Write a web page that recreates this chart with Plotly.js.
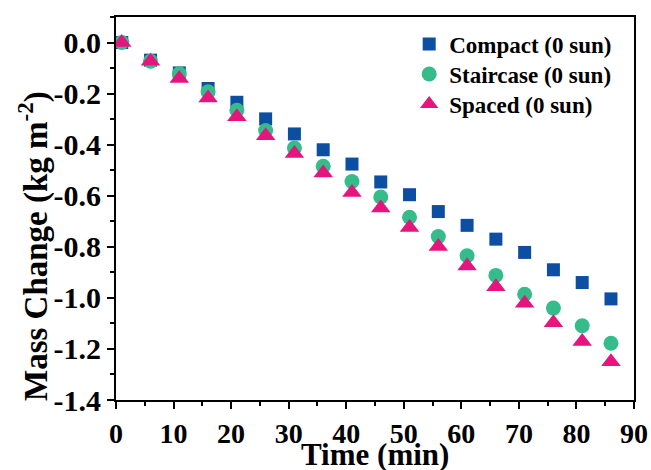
<!DOCTYPE html>
<html>
<head>
<meta charset="utf-8">
<script src="https://cdn.plot.ly/plotly-3.0.1.min.js"></script>
<style>html,body{margin:0;padding:0;background:#fff;}#chart{width:651px;height:470px;}</style>
</head>
<body>
<div id="chart"></div>
<script>
const timeMin = [1, 6, 11, 16, 21, 26, 31, 36, 41, 46, 51, 56, 61, 66, 71, 76, 81, 86];
const compact = [0.0, -0.069, -0.119, -0.180, -0.234, -0.299, -0.358, -0.420, -0.476, -0.546, -0.596, -0.662, -0.716, -0.770, -0.822, -0.890, -0.940, -1.004];
const staircase = [0.0, -0.073, -0.122, -0.193, -0.265, -0.345, -0.413, -0.485, -0.544, -0.605, -0.684, -0.760, -0.835, -0.912, -0.986, -1.040, -1.109, -1.178];
const spaced = [0.0, -0.073, -0.141, -0.217, -0.291, -0.365, -0.435, -0.511, -0.587, -0.648, -0.724, -0.799, -0.875, -0.956, -1.021, -1.097, -1.171, -1.250];
const seriesNames = ["Compact (0 sun)", "Staircase (0 sun)", "Spaced (0 sun)"];
const yTickVals = [0.0, -0.2, -0.4, -0.6, -0.8, -1.0, -1.2, -1.4];
const yTickText = ["0.0", "-0.2", "-0.4", "-0.6", "-0.8", "-1.0", "-1.2", "-1.4"];
const xTickVals = [0, 10, 20, 30, 40, 50, 60, 70, 80, 90];
const xTitle = "Time (min)";
const yTitle = "Mass Change (kg m<sup>-2</sup>)";

const FONT = "Liberation Serif, Times New Roman, serif";

const traces = [
  {x: timeMin, y: compact, name: seriesNames[0], type: "scatter", mode: "markers", legend: "legend",
   marker: {symbol: "square", size: 13, color: "#0c4ea1", line: {width: 0}}},
  {x: timeMin, y: staircase, name: seriesNames[1], type: "scatter", mode: "markers", legend: "legend2",
   marker: {symbol: "circle", size: 15, color: "#35bc8b", line: {width: 0}}},
  {x: timeMin, y: spaced, name: seriesNames[2], type: "scatter", mode: "markers", legend: "legend3",
   marker: {symbol: "triangle-up", size: 17, color: "#e6157d", line: {width: 0}}}
];

const axisCommon = {
  showgrid: false, zeroline: false, showline: true, linecolor: "#000", linewidth: 2,
  mirror: true, ticks: "outside", tickcolor: "#000", tickwidth: 2, ticklen: 7
};

const legendFont = {family: FONT, size: 23, color: "#000", weight: "bold"};
function legendAt(yPaper) {
  return {x: 0.566, y: yPaper, xanchor: "left", yanchor: "top", bgcolor: "rgba(0,0,0,0)", font: legendFont};
}

const layout = {
  width: 651, height: 470,
  margin: {l: 116, r: 17, t: 17, b: 70},
  paper_bgcolor: "#fff", plot_bgcolor: "#fff",
  showlegend: true,
  legend: legendAt(0.9854),
  legend2: legendAt(0.9070),
  legend3: legendAt(0.8287),
  xaxis: Object.assign({}, axisCommon, {
    range: [0, 90], tickmode: "array", tickvals: xTickVals,
    tickfont: {family: FONT, size: 28, color: "#000", weight: "bold"},
    minor: {dtick: 5, tick0: 0, ticks: "outside", ticklen: 4, tickwidth: 2, tickcolor: "#000"}
  }),
  yaxis: Object.assign({}, axisCommon, {
    range: [-1.4, 0.1], tickmode: "array", tickvals: yTickVals, ticktext: yTickText,
    tickfont: {family: FONT, size: 30, color: "#000", weight: "bold"},
    minor: {dtick: 0.1, tick0: 0, ticks: "outside", ticklen: 4, tickwidth: 2, tickcolor: "#000"}
  }),
  annotations: [{
    text: yTitle, textangle: -90, showarrow: false,
    xref: "paper", yref: "paper", x: (33 - 116) / 518, y: (400 - 246) / 383,
    xanchor: "center", yanchor: "middle",
    font: {family: FONT, size: 33, color: "#000", weight: "bold"}
  }, {
    text: xTitle, showarrow: false,
    xref: "paper", yref: "paper", x: 0.5, y: (400 - 454) / 383,
    xanchor: "center", yanchor: "middle",
    font: {family: FONT, size: 31, color: "#000", weight: "bold"}
  }]
};

Plotly.newPlot("chart", traces, layout, {displayModeBar: false, staticPlot: true});
</script>
</body>
</html>
